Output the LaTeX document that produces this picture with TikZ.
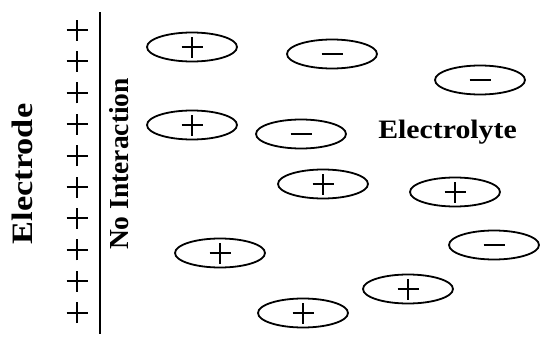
\documentclass[tikz,border=0pt]{standalone}
\usepackage{fontspec}
\setmainfont{Liberation Serif}
\usetikzlibrary{shapes.geometric}
\begin{document}
\begin{tikzpicture}[x=1pt,y=-1pt,
  ion/.style={draw, ellipse, line width=1.8pt, minimum width=90pt, minimum height=29pt, inner sep=0pt},
  sgn/.style={line width=2pt},
  esgn/.style={line width=2pt}]
\useasboundingbox (0,0) rectangle (542,338);
% electrode surface
\coordinate (top) at (100,12);
\coordinate (bot) at (100,334);
\draw[line width=2.8pt] (top) -- (bot);
% electrode charges
\foreach \k in {0,...,9}{
  \coordinate (p\k) at (77,{30+\k*31.4});
  \draw[esgn] ([xshift=-10.5pt]p\k) -- ([xshift=10.5pt]p\k);
  \draw[esgn] ([yshift=-10.5pt]p\k) -- ([yshift=10.5pt]p\k);
}
% labels
\node[rotate=90, anchor=base, font=\bfseries\fontsize{29.6}{30}\selectfont] (electrode) at (32,174) {\scalebox{1.16}[1]{Electrode}};
\node[rotate=90, anchor=base, font=\bfseries\fontsize{27.5}{28}\selectfont] (nointer) at (128,164) {No Interaction};
\node[anchor=base, font=\bfseries\fontsize{26.6}{28}\selectfont] (electrolyte) at (447.5,138) {\scalebox{1.12}[1]{Electrolyte}};
% ions
\foreach \n/\x/\y/\s in {a/192/47/1, b/192/125/1, c/220/253/1, d/332/54/0, e/480/80/0, f/301/134/0, g/323/184/1, h/455/192/1, i/494/245/0, j/408/289/1, k/303/313/1}{
  \node[ion] (\n) at (\x,\y) {};
  \draw[sgn] ([xshift=-10.5pt]\n.center) -- ([xshift=10.5pt]\n.center);
  \ifnum\s=1
    \draw[sgn] ([yshift=-10.5pt]\n.center) -- ([yshift=10.5pt]\n.center);
  \fi
}
\end{tikzpicture}
\end{document}
